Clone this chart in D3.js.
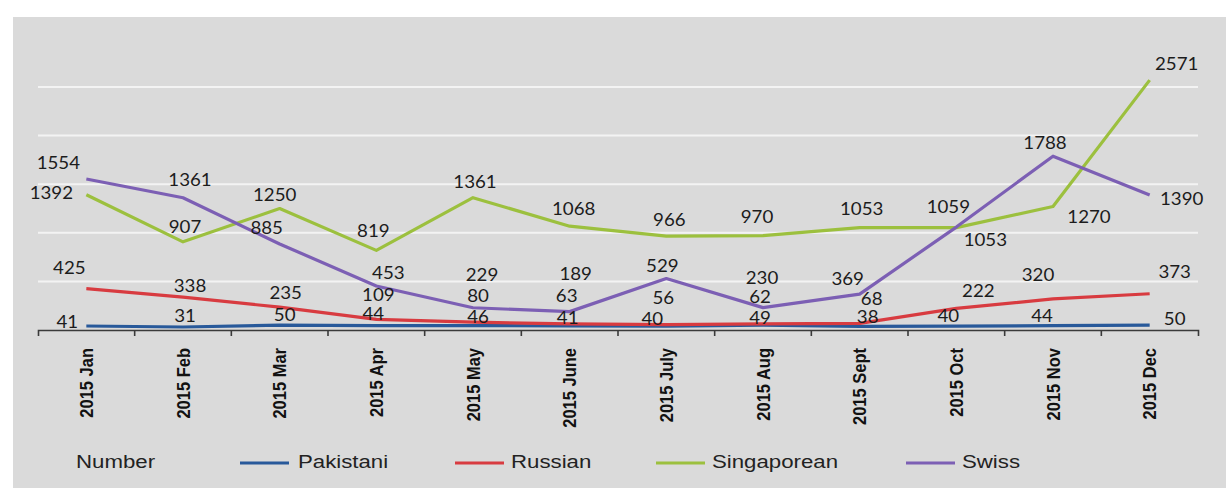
<!DOCTYPE html>
<html>
<head>
<meta charset="utf-8">
<script src="https://cdn.jsdelivr.net/npm/d3@7/dist/d3.min.js"></script>
<style>
  html, body { margin: 0; padding: 0; background: #ffffff; }
  svg { display: block; }
</style>
</head>
<body>
<svg id="chart" width="1226" height="488"></svg>
<script>
// Monthly counts by nationality, 2015
const months = ["2015 Jan", "2015 Feb", "2015 Mar", "2015 Apr", "2015 May", "2015 June",
                "2015 July", "2015 Aug", "2015 Sept", "2015 Oct", "2015 Nov", "2015 Dec"];
const seriesNames = ["Pakistani", "Russian", "Singaporean", "Swiss"];
const pakistani   = [41, 31, 50, 44, 46, 41, 40, 49, 38, 40, 44, 50];
const russian     = [425, 338, 235, 109, 80, 63, 56, 62, 68, 222, 320, 373];
const singaporean = [1392, 907, 1250, 819, 1361, 1068, 966, 970, 1053, 1053, 1270, 2571];
const swiss       = [1554, 1361, 885, 453, 229, 189, 529, 230, 369, 1059, 1788, 1390];
const gridValues  = [500, 1000, 1500, 2000, 2500];
const legendTitle = "Number";

// Layout and styling
const colors = {
  Pakistani: "#28599a",
  Russian: "#d83b40",
  Singaporean: "#9cc03e",
  Swiss: "#7c5fb4"
};
// label placement relative to each point [dx, dy]
const labelOffsets = {
  Pakistani:   [[-19,-4],[2,-11],[5,-10],[-3,-12],[5,-9],[-2,-8],[-14,-7],[-3,-7],[8,-9],[-8,-10],[-11,-10],[25,-6]],
  Russian:     [[-17,-21],[7,-11],[6,-14],[2,-25],[5,-26],[-3,-28],[-3,-27],[-3,-27],[12,-25],[22,-18],[-15,-24],[25,-22]],
  Singaporean: [[-35,-2],[2,-15],[-5,-14],[-3,-20],[2,-16],[4,-17],[3,-16],[-6,-19],[2,-19],[29,12],[36,10],[27,-16]],
  Swiss:       [[-28,-16],[7,-18],[-13,-16],[12,-13],[9,-33],[6,-38],[-4,-13],[-1,-30],[-12,-15],[-8,-20],[-8,-13],[32,4]]
};
const legendPos = [
  { swatch: 240, text: 298 },
  { swatch: 455, text: 511 },
  { swatch: 656, text: 712 },
  { swatch: 906, text: 962 }
];

const series = [
  { name: seriesNames[0], values: pakistani },
  { name: seriesNames[1], values: russian },
  { name: seriesNames[2], values: singaporean },
  { name: seriesNames[3], values: swiss }
];

const svg = d3.select("#chart");

// panel background
svg.append("rect")
  .attr("x", 13).attr("y", 17)
  .attr("width", 1213).attr("height", 471)
  .attr("fill", "#dadada");

const x = d3.scaleBand().domain(months).range([38, 1198]);
const y = d3.scaleLinear().domain([0, 3000]).range([330, 38.4]);

// horizontal gridlines
svg.append("g")
  .selectAll("line")
  .data(gridValues)
  .join("line")
  .attr("x1", 38).attr("x2", 1198)
  .attr("y1", d => y(d)).attr("y2", d => y(d))
  .attr("stroke", "#f3f3f3")
  .attr("stroke-width", 2);

// category axis with ticks on band boundaries
const axisG = svg.append("g")
  .attr("transform", `translate(0,${y(0)})`)
  .call(d3.axisBottom(x).tickSize(0).tickSizeOuter(6).tickPadding(0));

axisG.select(".domain")
  .attr("stroke", "#3a3a3a")
  .attr("stroke-width", 1.6);

axisG.selectAll(".tick text")
  .attr("font-family", "'Liberation Sans', Arial, sans-serif")
  .attr("font-weight", "bold")
  .attr("font-size", 16.5)
  .attr("fill", "#111")
  .attr("text-anchor", "end")
  .attr("x", 0).attr("y", 0)
  .attr("dy", "0.36em")
  .attr("transform", "translate(0,18) scale(1.12,1) rotate(-90)");

const boundaries = months.map(m => x(m)).slice(1);
axisG.append("g")
  .selectAll("line")
  .data(boundaries)
  .join("line")
  .attr("x1", d => d).attr("x2", d => d)
  .attr("y1", 0).attr("y2", 6)
  .attr("stroke", "#3a3a3a")
  .attr("stroke-width", 1.6);

const cx = m => x(m) + x.bandwidth() / 2;

// lines
const line = d3.line()
  .x((d, i) => cx(months[i]))
  .y(d => y(d));

svg.append("g")
  .selectAll("path")
  .data(series)
  .join("path")
  .attr("d", s => line(s.values))
  .attr("fill", "none")
  .attr("stroke", s => colors[s.name])
  .attr("stroke-width", 3.2)
  .attr("stroke-linejoin", "round");

// value labels
const labelG = svg.append("g");
series.forEach(s => {
  labelG.append("g")
    .selectAll("text")
    .data(s.values)
    .join("text")
    .attr("transform", (d, i) => {
      const o = labelOffsets[s.name][i];
      return `translate(${cx(months[i]) + o[0]},${y(d) + o[1]}) scale(1.1,1)`;
    })
    .attr("text-anchor", "middle")
    .attr("dy", "0.36em")
    .attr("font-family", "Lato, 'Open Sans', sans-serif")
    .attr("font-size", 17)
    .attr("fill", "#1c1c1c")
    .text(d => d);
});

// legend
const legendY = 462;
const legend = svg.append("g");
legend.append("text")
  .attr("transform", `translate(76,${legendY}) scale(1.27,1)`)
  .attr("dy", "0.36em")
  .attr("font-family", "'Liberation Sans', Arial, sans-serif")
  .attr("font-size", 17.5)
  .attr("fill", "#222")
  .text(legendTitle);

series.forEach((s, i) => {
  const p = legendPos[i];
  legend.append("line")
    .attr("x1", p.swatch).attr("x2", p.swatch + 49)
    .attr("y1", legendY + 1).attr("y2", legendY + 1)
    .attr("stroke", colors[s.name])
    .attr("stroke-width", 3.2);
  legend.append("text")
    .attr("transform", `translate(${p.text},${legendY}) scale(1.27,1)`)
    .attr("dy", "0.36em")
    .attr("font-family", "'Liberation Sans', Arial, sans-serif")
    .attr("font-size", 17.5)
    .attr("fill", "#222")
    .text(s.name);
});
</script>
</body>
</html>
